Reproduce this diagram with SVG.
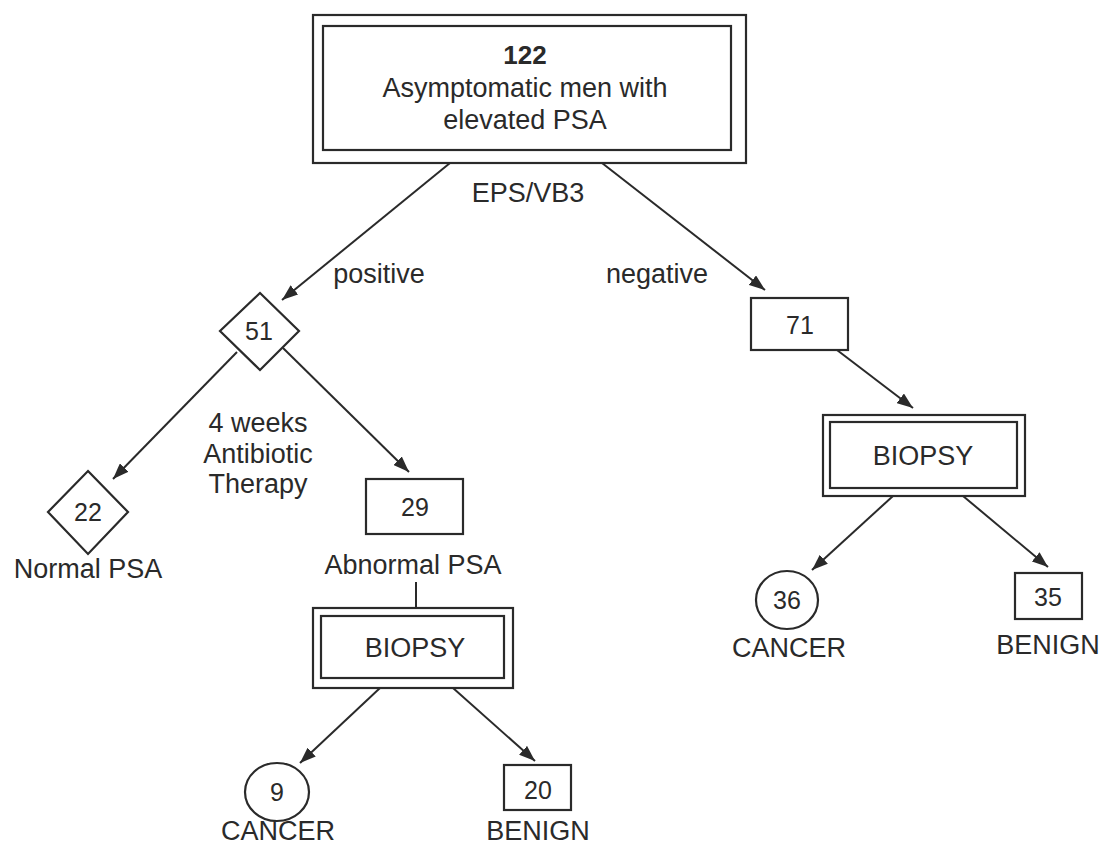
<svg xmlns="http://www.w3.org/2000/svg" width="1104" height="848" viewBox="0 0 1104 848">
<style>
.b{fill:#fff;stroke:#2a2a2a;stroke-width:2.2}
.t{font-family:"Liberation Sans",Arial,sans-serif;font-size:27px;fill:#2a2a2a;text-anchor:middle}
.n{font-family:"Liberation Sans",Arial,sans-serif;font-size:25px;fill:#2a2a2a;text-anchor:middle}
.c{stroke:#2a2a2a;stroke-width:2;fill:none}
</style>
<defs>
<marker id="ah" viewBox="0 0 16 12" refX="16" refY="6" markerWidth="16" markerHeight="12" markerUnits="userSpaceOnUse" orient="auto">
<path d="M0,0 L16,6 L0,12 z" fill="#2a2a2a"/>
</marker>
</defs>
<rect width="1104" height="848" fill="#fff"/>
<g id="connectors">
<line class="c" x1="450" y1="163" x2="282" y2="300" marker-end="url(#ah)"/>
<line class="c" x1="602" y1="163" x2="765" y2="290" marker-end="url(#ah)"/>
<line class="c" x1="237" y1="352" x2="113" y2="479" marker-end="url(#ah)"/>
<line class="c" x1="283" y1="348" x2="409" y2="472" marker-end="url(#ah)"/>
<line class="c" x1="416" y1="582" x2="416" y2="608"/>
<line class="c" x1="380" y1="688" x2="300" y2="763" marker-end="url(#ah)"/>
<line class="c" x1="453" y1="688" x2="535" y2="761" marker-end="url(#ah)"/>
<line class="c" x1="837" y1="350" x2="913" y2="408" marker-end="url(#ah)"/>
<line class="c" x1="893" y1="496" x2="812" y2="570" marker-end="url(#ah)"/>
<line class="c" x1="963" y1="496" x2="1048" y2="567" marker-end="url(#ah)"/>
</g>
<g id="labels">
<text class="t" x="528" y="202">EPS/VB3</text>
<text class="t" x="379" y="283">positive</text>
<text class="t" x="657" y="283">negative</text>
<text class="t" x="258" y="432">4 weeks</text>
<text class="t" x="258" y="463">Antibiotic</text>
<text class="t" x="258" y="493">Therapy</text>
</g>
<g id="n122">
<rect class="b" x="313" y="15" width="433" height="148"/>
<rect class="b" x="323" y="26" width="408" height="124"/>
<text class="t" x="525" y="64" style="font-weight:bold;font-size:26px">122</text>
<text class="t" x="525" y="97">Asymptomatic men with</text>
<text class="t" x="525" y="129">elevated PSA</text>
</g>
<g id="n51">
<polygon class="b" points="260,293 299,331 260,370 220,331"/>
<text class="n" x="259" y="340">51</text>
</g>
<g id="n71">
<rect class="b" x="751" y="298" width="97" height="52"/>
<text class="n" x="800" y="334">71</text>
</g>
<g id="n22">
<polygon class="b" points="88,471 128,512 88,554 48,512"/>
<text class="n" x="88" y="521">22</text>
<text class="t" x="88" y="578">Normal PSA</text>
</g>
<g id="n29">
<rect class="b" x="366" y="479" width="97" height="55"/>
<text class="n" x="415" y="516">29</text>
<text class="t" x="413" y="574">Abnormal PSA</text>
</g>
<g id="biopsyL">
<rect class="b" x="313" y="608" width="200" height="80"/>
<rect class="b" x="321" y="616" width="183" height="62"/>
<text class="t" x="415" y="657">BIOPSY</text>
</g>
<g id="n9">
<ellipse class="b" cx="277" cy="792" rx="32" ry="29"/>
<text class="n" x="277" y="801">9</text>
<text class="t" x="278" y="840">CANCER</text>
</g>
<g id="n20">
<rect class="b" x="504" y="765" width="67" height="45"/>
<text class="n" x="538" y="799">20</text>
<text class="t" x="538" y="840">BENIGN</text>
</g>
<g id="biopsyR">
<rect class="b" x="823" y="415" width="202" height="81"/>
<rect class="b" x="830" y="422" width="187" height="66"/>
<text class="t" x="923" y="465">BIOPSY</text>
</g>
<g id="n36">
<ellipse class="b" cx="787" cy="600" rx="31" ry="29"/>
<text class="n" x="787" y="609">36</text>
<text class="t" x="789" y="657">CANCER</text>
</g>
<g id="n35">
<rect class="b" x="1015" y="573" width="67" height="46"/>
<text class="n" x="1048" y="606">35</text>
<text class="t" x="1048" y="654">BENIGN</text>
</g>
</svg>
